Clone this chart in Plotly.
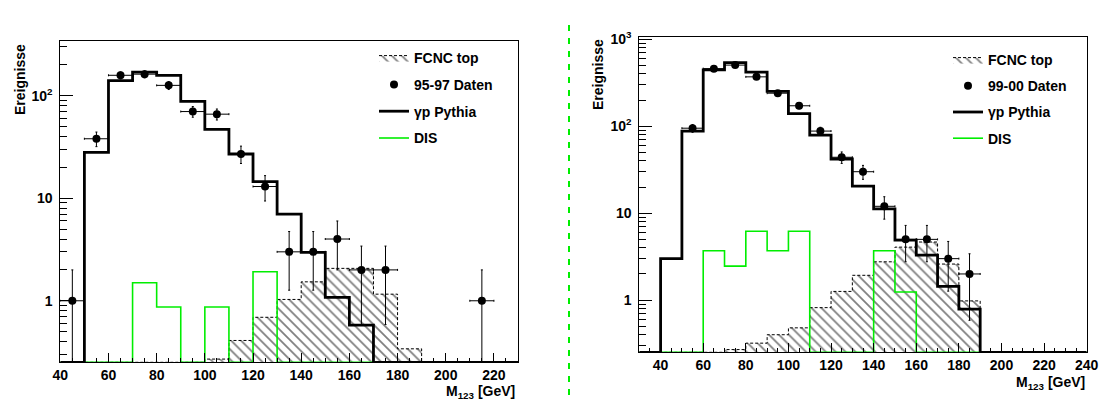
import math
import plotly.graph_objects as go

# ---------------- data ----------------
# Left panel (95-97), bins of 10 GeV starting at 40
L_EDGES = list(range(40, 231, 10))
L_PYTHIA = [0, 28, 140, 170, 158, 88, 47, 27, 14.5, 7.0, 2.96, 1.08, 0.58, 0, 0, 0, 0, 0, 0]
L_DIS = [0, 0, 0, 1.5, 0.87, 0, 0.87, 0, 1.92, 0, 0, 0, 0, 0, 0, 0, 0, 0, 0]
L_FCNC = [0, 0, 0, 0, 0, 0, 0.27, 0.41, 0.69, 1.03, 1.53, 2.07, 2.07, 1.16, 0.34, 0, 0, 0, 0]
L_DATA = [1, 38, 158, 162, 126, 70, 66, 27, 13, 3, 3, 4, 2, 2, 0, 0, 0, 1, 0]

# Right panel (99-00), bins of 10 GeV starting at 30
R_EDGES = list(range(30, 241, 10))
R_PYTHIA = [0, 3.0, 88, 446, 540, 419, 252, 140, 79, 42, 20.5, 11.2, 4.9, 3.3, 1.44, 0.79, 0, 0, 0, 0, 0]
R_DIS = [0, 0, 0, 3.7, 2.46, 6.2, 3.7, 6.2, 0, 0, 0, 3.7, 1.24, 0, 0, 0, 0, 0, 0, 0, 0]
R_FCNC = [0, 0, 0, 0, 0.27, 0.32, 0.40, 0.48, 0.82, 1.26, 1.93, 2.76, 4.07, 4.66, 2.6, 0.98, 0, 0, 0, 0, 0]
R_DATA = [0, 0, 95, 460, 505, 370, 240, 172, 88, 44, 30, 12, 5, 5, 3, 2, 0, 0, 0, 0, 0]

L_YRANGE = [-0.6, 2.533]
R_YRANGE = [-0.6, 3.03]
FLOOR = 10 ** -0.6

FONT = "Liberation Sans"
GREEN = "#00ee00"


def floored(vals):
    return [v if v > 0 else FLOOR for v in vals]


def add_panel(fig, edges, pythia, dis, fcnc, data, label, xa, ya, legend):
    # FCNC hatched
    v = floored(fcnc)
    fx = [edges[0]] + edges
    fy = [FLOOR] + v + [v[-1]]
    fig.add_trace(go.Scatter(
        x=fx + [edges[-1]], y=fy + [FLOOR], mode="lines", line_shape="hv",
        fill="toself", fillcolor="rgba(0,0,0,0)",
        fillpattern=dict(shape="\\", fgcolor="black", bgcolor="rgba(0,0,0,0)", size=7, solidity=0.25),
        line=dict(color="black", width=1, dash="3px,2px"),
        name="FCNC top", legend=legend, legendrank=1, legendgroup=legend + "a",
        xaxis=xa, yaxis=ya, hoverinfo="skip"))
    # DIS
    d = floored(dis)
    fig.add_trace(go.Scatter(
        x=edges, y=d + [d[-1]], mode="lines", line_shape="hv",
        line=dict(color=GREEN, width=1.6),
        name="DIS", legend=legend, legendrank=4, legendgroup=legend + "d",
        xaxis=xa, yaxis=ya))
    # Pythia
    p = floored(pythia)
    fig.add_trace(go.Scatter(
        x=edges, y=p + [p[-1]], mode="lines", line_shape="hv",
        line=dict(color="black", width=2.8),
        name="\u03b3p Pythia", legend=legend, legendrank=3, legendgroup=legend + "c",
        xaxis=xa, yaxis=ya))
    # data points
    cx, cy, eu, ed = [], [], [], []
    for i, n in enumerate(data):
        if n > 0:
            cx.append((edges[i] + edges[i + 1]) / 2)
            cy.append(n)
            s = math.sqrt(n)
            eu.append(s)
            ed.append(min(s, n * 0.999))
    fig.add_trace(go.Scatter(
        x=cx, y=cy, mode="markers",
        marker=dict(color="black", size=8, symbol="circle"),
        error_y=dict(type="data", array=eu, arrayminus=ed, color="black", thickness=1, width=1),
        error_x=dict(type="constant", value=5, color="black", thickness=1, width=1),
        name=label, legend=legend, legendrank=2, legendgroup=legend + "b",
        xaxis=xa, yaxis=ya))


fig = go.Figure()
add_panel(fig, L_EDGES, L_PYTHIA, L_DIS, L_FCNC, L_DATA, "95-97 Daten", "x", "y", "legend")
add_panel(fig, R_EDGES, R_PYTHIA, R_DIS, R_FCNC, R_DATA, "99-00 Daten", "x2", "y2", "legend2")

W, H = 1099, 402
tickfont = dict(family=FONT, size=14, color="black", weight="bold")


def minor_vals(lo, hi):
    out = []
    e = -1
    while 10 ** e <= 10 ** hi:
        for k in range(2, 10):
            val = k * 10 ** e
            if 10 ** lo <= val <= 10 ** hi:
                out.append(val)
        e += 1
    return out


xcommon = dict(ticks="inside", ticklen=9, tickwidth=1, tickcolor="black", dtick=20, tick0=0,
               showline=True, linecolor="black", linewidth=1, mirror=True, showgrid=False,
               zeroline=False, tickfont=tickfont, automargin=False,
               minor=dict(dtick=5, tick0=0, ticks="inside", ticklen=4, tickcolor="black", showgrid=False))
ycommon = dict(type="log", ticks="inside", ticklen=13, tickwidth=1, tickcolor="black",
               showline=True, linecolor="black", linewidth=1, mirror=True, showgrid=False,
               zeroline=False, tickfont=tickfont, ticklabelstandoff=4, automargin=False)

legfont = dict(family=FONT, size=14, color="black", weight="bold")
fig.update_layout(
    width=W, height=H, margin=dict(l=0, r=0, t=0, b=0, autoexpand=False),
    paper_bgcolor="white", plot_bgcolor="white",
    xaxis=dict(domain=[60.3 / W, 518 / W], range=[40, 230], anchor="y", **xcommon),
    yaxis=dict(domain=[(H - 362.3) / H, (H - 41) / H], range=L_YRANGE, anchor="x",
               tickvals=[1, 10, 100], ticktext=["1", "10", "10<sup>2</sup>"],
               minor=dict(tickvals=minor_vals(*L_YRANGE), ticks="inside", ticklen=7, tickcolor="black", showgrid=False),
               **ycommon),
    xaxis2=dict(domain=[639.3 / W, 1086.7 / W], range=[30, 240], anchor="y2", **xcommon),
    yaxis2=dict(domain=[(H - 352.3) / H, (H - 36.7) / H], range=R_YRANGE, anchor="x2",
                tickvals=[1, 10, 100, 1000], ticktext=["1", "10", "10<sup>2</sup>", "10<sup>3</sup>"],
                minor=dict(tickvals=minor_vals(*R_YRANGE), ticks="inside", ticklen=7, tickcolor="black", showgrid=False),
                **ycommon),
    legend=dict(x=374 / W, y=(H - 42) / H, xanchor="left", yanchor="top",
                bgcolor="rgba(0,0,0,0)", font=legfont, tracegroupgap=5.6, traceorder="grouped"),
    legend2=dict(x=948 / W, y=(H - 44) / H, xanchor="left", yanchor="top",
                 bgcolor="rgba(0,0,0,0)", font=legfont, tracegroupgap=5, traceorder="grouped"),
    showlegend=True,
)

ann_font = dict(family=FONT, size=14, color="black", weight="bold")
fig.add_annotation(text="Ereignisse", xref="paper", yref="paper", x=20 / W, y=(H - 80) / H,
                   textangle=-90, showarrow=False, font=ann_font, xanchor="center", yanchor="middle")
fig.add_annotation(text="Ereignisse", xref="paper", yref="paper", x=598 / W, y=(H - 75) / H,
                   textangle=-90, showarrow=False, font=ann_font, xanchor="center", yanchor="middle")
fig.add_annotation(text="M<sub>123</sub> [GeV]", xref="paper", yref="paper", x=517 / W, y=(H - 392) / H,
                   showarrow=False, font=ann_font, xanchor="right", yanchor="middle")
fig.add_annotation(text="M<sub>123</sub> [GeV]", xref="paper", yref="paper", x=1087 / W, y=(H - 383) / H,
                   showarrow=False, font=ann_font, xanchor="right", yanchor="middle")

fig.add_shape(type="line", xref="paper", yref="paper", x0=569 / W, x1=569 / W,
              y0=(H - 395) / H, y1=(H - 23) / H, line=dict(color=GREEN, width=2, dash="6px,7px"))

fig.write_html("out.html", config={"displayModeBar": False},
               post_script="document.body.style.margin='0';document.body.style.overflow='hidden';")
